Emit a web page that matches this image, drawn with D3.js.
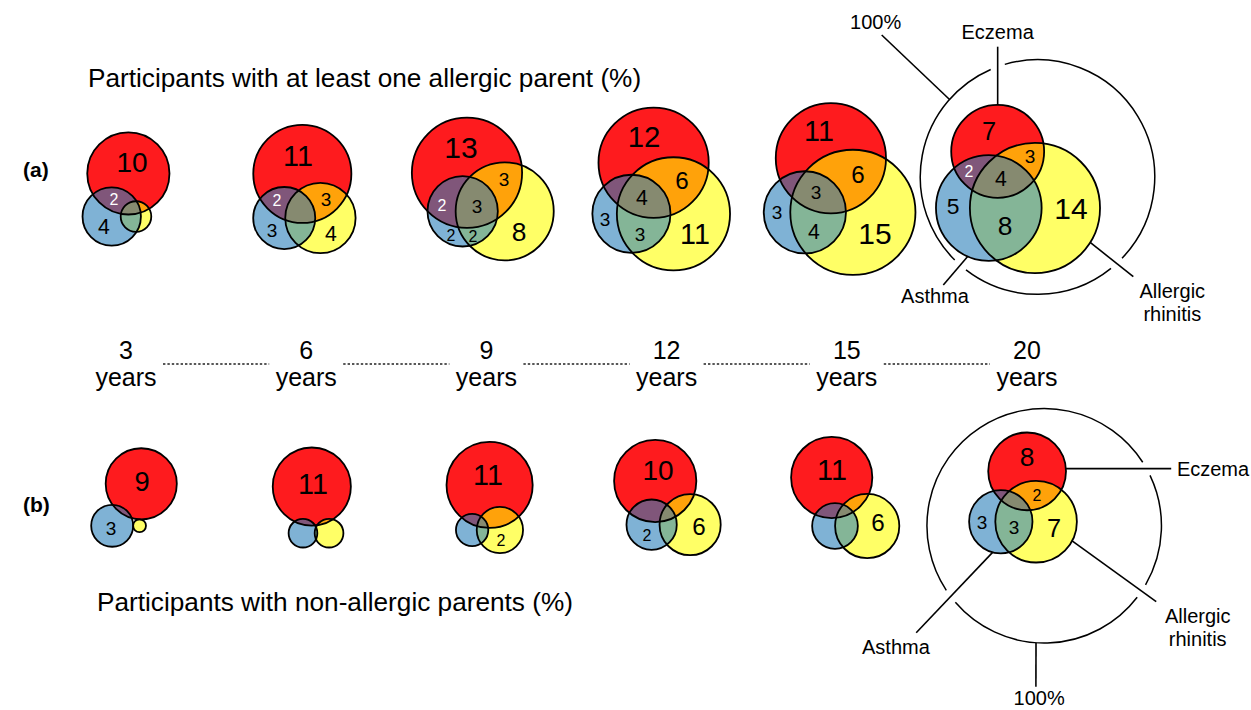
<!DOCTYPE html>
<html><head><meta charset="utf-8">
<script src="https://cdn.jsdelivr.net/npm/d3@7"></script>
<style>
body{margin:0;background:#fff}
svg{display:block}
text{font-family:"Liberation Sans",Arial,Helvetica,sans-serif;fill:#000}
</style>
</head><body>
<svg id="chart" width="1251" height="710"></svg>
<script>
// ---------------- DATA ----------------
const ages = [3, 6, 9, 12, 15, 20];
const ageLabels = ["3", "6", "9", "12", "15", "20"];
const unitLabel = "years";
const diseaseNames = ["Eczema", "Asthma", "Allergic rhinitis"];

// (a) participants with at least one allergic parent: prevalence (%) per disease and pairwise overlaps
const eczemaA   = [12.3, 17.5, 22.1, 22.1, 22.1, 15.7];
const asthmaA   = [6.2, 7.0, 9.0, 11.1, 12.3, 20.3];
const rhinitisA = [1.7, 9.0, 17.5, 23.3, 28.5, 30.8];
const eczAsthA  = [2.0, 3.2, 6.5, 4.6, 4.3, 5.5];
const eczRhinA  = [0.6, 4.0, 7.3, 9.1, 9.9, 6.1];
const asthRhinA = [1.1, 2.7, 4.9, 7.3, 8.0, 12.8];
// region labels (%), null = not printed
const eczOnlyA      = [10, 11, 13, 12, 11, 7];
const asthOnlyA     = [4, 3, 2, 3, 3, 5];
const rhinOnlyA     = [null, 4, 8, 11, 15, 14];
const eczAsthOnlyA  = [2, 2, 2, null, null, 2];
const eczRhinOnlyA  = [null, 3, 3, 6, 6, 3];
const asthRhinOnlyA = [null, null, 2, 3, 4, 8];
const allThreeA     = [null, null, 3, 4, 3, 4];

// (b) participants with non-allergic parents
const eczemaB   = [9.2, 11.1, 13.5, 12.3, 12.0, 11.0];
const asthmaB   = [3.2, 1.5, 1.9, 4.6, 3.8, 7.3];
const rhinitisB = [0.3, 1.5, 3.9, 6.8, 7.5, 12.1];
const eczAsthB  = [0.2, 0.2, 0.5, 1.7, 0.9, 0.9];
const eczRhinB  = [0.0, 0.1, 1.4, 1.1, 0.8, 2.8];
const asthRhinB = [0.0, 0.05, 0.5, 1.1, 1.6, 3.8];
const eczOnlyB      = [9, 11, 11, 10, 11, 8];
const asthOnlyB     = [3, null, null, 2, null, 3];
const rhinOnlyB     = [null, null, 2, 6, 6, 7];
const eczAsthOnlyB  = [null, null, null, null, null, null];
const eczRhinOnlyB  = [null, null, null, null, null, 2];
const asthRhinOnlyB = [null, null, null, null, null, 3];
const allThreeB     = [null, null, null, null, null, null];

const titleA = "Participants with at least one allergic parent (%)";
const titleB = "Participants with non-allergic parents (%)";
const totalPct = 100;
const totalLabel = "100%";

// ---------------- STYLE / LAYOUT ----------------
const colors = {E:"#FE1B1E", A:"#7FB2D5", R:"#FFFF66", ER:"#FFA20A", EA:"#80567A", AR:"#84B597", EAR:"#868A70"};
const svg = d3.select("#chart");
const rScale = d3.scaleSqrt().domain([0, 100]).range([0, 117.25]);
const fontScale = d3.scaleLog().domain([2, 13]).range([16, 30]).clamp(true);
const yearX = d3.scalePoint().domain(ages).range([126, 1027]);

const rows = [
  {id:"a", tag:"(a)", title:titleA, titleX:88, titleY:87, tagY:177,
   gx:d3.scalePoint().domain(ages).range([126, 1018]), gy:189,
   E:eczemaA, A:asthmaA, R:rhinitisA, EA:eczAsthA, ER:eczRhinA, AR:asthRhinA,
   labels:{"100":eczOnlyA,"010":asthOnlyA,"001":rhinOnlyA,"110":eczAsthOnlyA,"101":eczRhinOnlyA,"011":asthRhinOnlyA,"111":allThreeA},
   outerOff:[19.5, -12],
   leaders:[
     {text:[diseaseNames[0]], circ:0, ang:-90, lockX:true, endY:-130.3, lx:null, ly:[-138.3], anchor:"middle", gap:true},
     {text:[diseaseNames[1]], circ:1, ang:113.6, end:[-94.2,108], lx:-102.5, ly:[126], anchor:"middle", gap:true},
     {text:["Allergic","rhinitis"], circ:2, ang:31.9, end:[95.8,99.7], lx:134.8, ly:[121,144], anchor:"middle", gap:true},
     {text:[totalLabel], circ:"outer", ang:-138.6, end:[-155.8,-142], lx:-161.8, ly:[-148.3], anchor:"middle", gap:false}
   ]},
  {id:"b", tag:"(b)", title:titleB, titleX:97, titleY:611, tagY:512,
   gx:d3.scalePoint().domain(ages).range([134, 1023]), gy:497.5,
   E:eczemaB, A:asthmaB, R:rhinitisB, EA:eczAsthB, ER:eczRhinB, AR:asthRhinB,
   labels:{"100":eczOnlyB,"010":asthOnlyB,"001":rhinOnlyB,"110":eczAsthOnlyB,"101":eczRhinOnlyB,"011":asthRhinOnlyB,"111":allThreeB},
   outerOff:[21.2, 28.3],
   leaders:[
     {text:[diseaseNames[0]], circ:0, ang:-4, lockY:true, endX:127, lx:132.7, lyRel:7, anchor:"start", gap:true},
     {text:[diseaseNames[1]], circ:1, ang:105, end:[-128,106.9], lx:-148.3, ly:[127.9], anchor:"middle", gap:true},
     {text:["Allergic","rhinitis"], circ:2, ang:28, end:[112,75.9], lx:153.5, ly:[97.2,120.5], anchor:"middle", gap:true},
     {text:[totalLabel], circ:"outer", ang:94, end:[-8.3,160.9], lx:-5, ly:[179.5], anchor:"middle", gap:false}
   ]}
];

// ---------------- GEOMETRY ----------------
function lens(r1, r2, d) {
  if (d >= r1 + r2) return 0;
  if (d <= Math.abs(r1 - r2)) return Math.PI * Math.min(r1, r2) ** 2;
  const a = r1*r1*Math.acos((d*d + r1*r1 - r2*r2) / (2*d*r1));
  const b = r2*r2*Math.acos((d*d + r2*r2 - r1*r1) / (2*d*r2));
  const c = 0.5*Math.sqrt((-d+r1+r2)*(d+r1-r2)*(d-r1+r2)*(d+r1+r2));
  return a + b - c;
}
function solveDist(r1, r2, pct) {
  const area = Math.PI * rScale(pct) ** 2;
  if (area <= 0) return r1 + r2;
  if (area >= Math.PI * Math.min(r1, r2) ** 2) return Math.abs(r1 - r2);
  let lo = Math.abs(r1 - r2), hi = r1 + r2;
  for (let i = 0; i < 80; i++) {
    const m = (lo + hi) / 2;
    if (lens(r1, r2, m) > area) lo = m; else hi = m;
  }
  return (lo + hi) / 2;
}
function layout(row, i) {
  const rE = rScale(row.E[i]), rA = rScale(row.A[i]), rR = rScale(row.R[i]);
  const dAR = solveDist(rA, rR, row.AR[i]);
  const dAE = solveDist(rE, rA, row.EA[i]);
  const dER = solveDist(rE, rR, row.ER[i]);
  const ex = (dAE*dAE - dER*dER + dAR*dAR) / (2*dAR);
  const ey = -Math.sqrt(Math.max(0, dAE*dAE - ex*ex));
  let cs = [{x:ex, y:ey, r:rE}, {x:0, y:0, r:rA}, {x:dAR, y:0, r:rR}];
  const x0 = d3.min(cs, c => c.x - c.r), x1 = d3.max(cs, c => c.x + c.r);
  const y0 = d3.min(cs, c => c.y - c.r), y1 = d3.max(cs, c => c.y + c.r);
  const tx = row.gx(ages[i]) - (x0 + x1) / 2, ty = row.gy - (y0 + y1) / 2;
  cs = cs.map(c => ({x:c.x + tx, y:c.y + ty, r:c.r}));
  return {cs, bbox:[x0+tx, y0+ty, x1+tx, y1+ty]};
}
function pole(cs, mask, bbox) {
  let best = null, bm = -1;
  for (let x = Math.floor(bbox[0]); x <= bbox[2]; x += 1) {
    for (let y = Math.floor(bbox[1]); y <= bbox[3]; y += 1) {
      let ok = true, m = Infinity;
      for (let k = 0; k < 3; k++) {
        const d = Math.hypot(x - cs[k].x, y - cs[k].y);
        if ((d < cs[k].r) !== (mask[k] === "1")) { ok = false; break; }
        m = Math.min(m, Math.abs(d - cs[k].r));
      }
      if (ok && m > bm) { bm = m; best = [x, y]; }
    }
  }
  return best;
}
const rad = a => a * Math.PI / 180;

// ---------------- DRAW ----------------
const defs = svg.append("defs");
rows.forEach(row => {
  // row tag and title
  svg.append("text").attr("x", 23).attr("y", row.tagY).attr("font-size", 21).attr("font-weight", "bold").text(row.tag);
  svg.append("text").attr("x", row.titleX).attr("y", row.titleY).attr("font-size", 26.2).text(row.title);

  ages.forEach((age, i) => {
    const {cs, bbox} = layout(row, i);
    const [E, A, R] = cs;
    const g = svg.append("g");
    const idE = `clipE-${row.id}${i}`, idR = `clipR-${row.id}${i}`;
    defs.append("clipPath").attr("id", idE).append("circle").attr("cx", E.x).attr("cy", E.y).attr("r", E.r);
    defs.append("clipPath").attr("id", idR).append("circle").attr("cx", R.x).attr("cy", R.y).attr("r", R.r);
    const circ = (sel, c, fill) => sel.append("circle").attr("cx", c.x).attr("cy", c.y).attr("r", c.r).attr("fill", fill);
    circ(g, E, colors.E); circ(g, A, colors.A); circ(g, R, colors.R);
    circ(g, R, colors.ER).attr("clip-path", `url(#${idE})`);
    circ(g, A, colors.EA).attr("clip-path", `url(#${idE})`);
    circ(g, A, colors.AR).attr("clip-path", `url(#${idR})`);
    circ(g.append("g").attr("clip-path", `url(#${idE})`), A, colors.EAR).attr("clip-path", `url(#${idR})`);
    [E, A, R].forEach(c => circ(g, c, "none").attr("stroke", "#000").attr("stroke-width", 1.8));

    // region labels
    Object.entries(row.labels).forEach(([mask, arr]) => {
      const v = arr[i];
      if (v == null) return;
      const p = pole(cs, mask, bbox);
      if (!p) return;
      g.append("text").attr("x", p[0]).attr("y", p[1]).attr("dy", "0.36em")
        .attr("text-anchor", "middle").attr("font-size", fontScale(v))
        .style("fill", mask === "110" ? "#fff" : "#000").text(v);
    });

    // annotations on the last (20-year) panel
    if (i === ages.length - 1) {
      const O = {x:(bbox[0]+bbox[2])/2 + row.outerOff[0], y:(bbox[1]+bbox[3])/2 + row.outerOff[1], r:rScale(totalPct)};
      const gapAngles = [];
      row.leaders.forEach(L => {
        const c = L.circ === "outer" ? O : cs[L.circ];
        const p0 = [c.x + c.r*Math.cos(rad(L.ang)), c.y + c.r*Math.sin(rad(L.ang))];
        let p1;
        if (L.lockX) p1 = [p0[0], O.y + L.endY];
        else if (L.lockY) p1 = [O.x + L.endX, p0[1]];
        else p1 = [O.x + L.end[0], O.y + L.end[1]];
        g.append("line").attr("x1", p0[0]).attr("y1", p0[1]).attr("x2", p1[0]).attr("y2", p1[1])
          .attr("stroke", "#000").attr("stroke-width", 1.6);
        if (L.gap) {
          const dx = p1[0]-p0[0], dy = p1[1]-p0[1];
          const fx = p0[0]-O.x, fy = p0[1]-O.y;
          const a = dx*dx+dy*dy, b = 2*(fx*dx+fy*dy), cc = fx*fx+fy*fy-O.r*O.r;
          const disc = b*b-4*a*cc;
          if (disc >= 0) {
            [(-b+Math.sqrt(disc))/(2*a), (-b-Math.sqrt(disc))/(2*a)].forEach(t => {
              if (t >= 0 && t <= 1) gapAngles.push(Math.atan2(p0[1]+t*dy-O.y, p0[0]+t*dx-O.x));
            });
          }
        }
        const lx = L.lx == null ? p0[0] : O.x + L.lx;
        const t = g.append("text").attr("font-size", 20).attr("text-anchor", L.anchor);
        L.text.forEach((s, j) => {
          const y = L.lyRel != null ? p1[1] + L.lyRel : O.y + L.ly[j];
          t.append("tspan").attr("x", lx).attr("y", y).text(s);
        });
      });
      // outer 100% circle, broken where leader lines cross it
      gapAngles.sort((p, q) => p - q);
      const h = 7.5 / O.r;
      const P = a => `${O.x + O.r*Math.cos(a)},${O.y + O.r*Math.sin(a)}`;
      let d = "";
      gapAngles.forEach((ga, j) => {
        const a1 = ga + h;
        let a2 = (j + 1 < gapAngles.length ? gapAngles[j+1] : gapAngles[0] + 2*Math.PI) - h;
        const large = (a2 - a1) > Math.PI ? 1 : 0;
        d += `M${P(a1)}A${O.r},${O.r} 0 ${large} 1 ${P(a2)}`;
      });
      g.append("path").attr("d", d).attr("fill", "none").attr("stroke", "#000").attr("stroke-width", 1.5);
    }
  });
});

// age labels and dotted connectors
ages.forEach((age, i) => {
  const x = yearX(age);
  svg.append("text").attr("x", x).attr("y", 359).attr("text-anchor", "middle").attr("font-size", 25).text(ageLabels[i]);
  svg.append("text").attr("x", x).attr("y", 386).attr("text-anchor", "middle").attr("font-size", 25).text(unitLabel);
  if (i < ages.length - 1) {
    svg.append("line").attr("x1", x + 37).attr("x2", yearX(ages[i+1]) - 37).attr("y1", 364).attr("y2", 364)
      .attr("stroke", "#222").attr("stroke-width", 1.6).attr("stroke-dasharray", "2.4,2");
  }
});
</script>
</body></html>
